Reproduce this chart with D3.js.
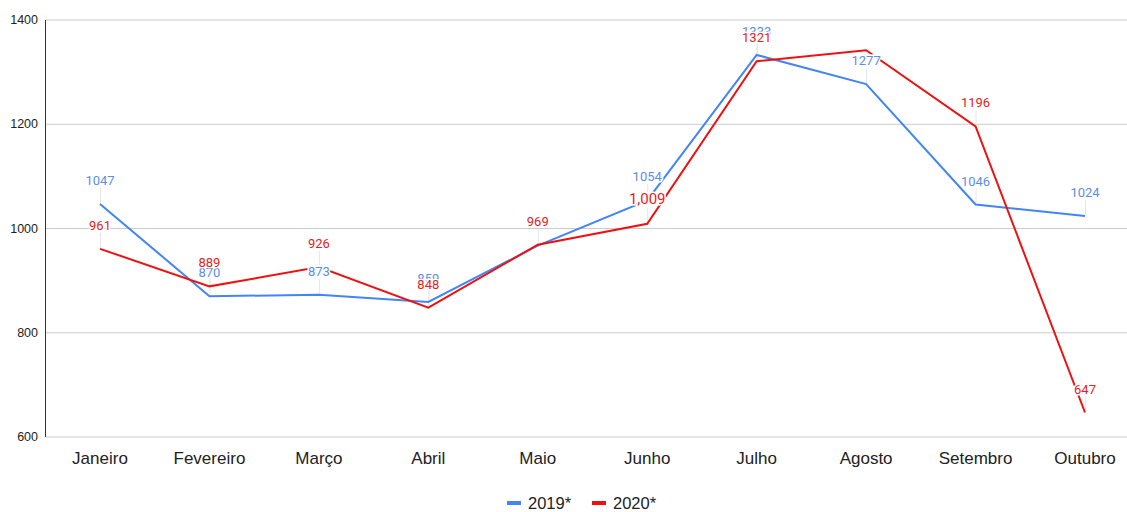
<!DOCTYPE html>
<html>
<head>
<meta charset="utf-8">
<script src="https://cdnjs.cloudflare.com/ajax/libs/d3/7.8.5/d3.min.js"></script>
<style>
  body { margin: 0; background: #fff; }
  svg { display: block; }
</style>
</head>
<body>
<svg id="chart"></svg>
<script>
// chart data
const months = ["Janeiro", "Fevereiro", "Março", "Abril", "Maio", "Junho", "Julho", "Agosto", "Setembro", "Outubro"];
const values2019 = [1047, 870, 873, 859, 967, 1054, 1333, 1277, 1046, 1024];
const values2020 = [961, 889, 926, 848, 969, 1009, 1321, 1342, 1196, 647];
const hidden2019 = ["Maio"];   // labels google hid
const hidden2020 = ["Agosto"];
const yTicks = [600, 800, 1000, 1200, 1400];

const series = [
    { name: "2019*", values: values2019, color: "#4285f4", label: "#5a8fe6", hidden: hidden2019 },
    { name: "2020*", values: values2020, color: "#ee1111", label: "#e8201c", hidden: hidden2020 }
];

const W = 1127, H = 512;
const svg = d3.select("#chart").attr("width", W).attr("height", H);

const x = d3.scalePoint().domain(months).range([100, 1085]);
const y = d3.scaleLinear().domain([600, 1400]).range([437, 20]);

// gridlines
svg.append("g")
    .selectAll("line")
    .data(yTicks)
    .enter().append("line")
    .attr("x1", 45).attr("x2", W)
    .attr("y1", d => y(d)).attr("y2", d => y(d))
    .attr("stroke", "#cccccc")
    .attr("stroke-width", 1);

// y axis line
svg.append("line")
    .attr("x1", 45.5).attr("x2", 45.5)
    .attr("y1", y(1400)).attr("y2", y(600))
    .attr("stroke", "#333")
    .attr("stroke-width", 1);

svg.append("g")
    .selectAll("text")
    .data(yTicks)
    .enter().append("text")
    .attr("x", 38)
    .attr("y", d => y(d) + 4)
    .attr("text-anchor", "end")
    .style("font-family", "Liberation Sans, Arial, sans-serif")
    .style("font-size", "12.5px")
    .attr("fill", "#222")
    .text(d => d);

// x labels
svg.append("g")
    .selectAll("text")
    .data(months)
    .enter().append("text")
    .attr("x", d => x(d))
    .attr("y", 464)
    .attr("text-anchor", "middle")
    .style("font-family", "Liberation Sans, Arial, sans-serif")
    .style("font-size", "17px")
    .attr("fill", "#222")
    .text(d => d);

const line = d3.line()
    .x((d, i) => x(months[i]))
    .y(d => y(d));

// leader lines first (faint)
series.forEach(s => {
    svg.append("g")
        .selectAll("line")
        .data(s.values.map((v, i) => ({ v, m: months[i] })).filter(d => !s.hidden.includes(d.m)))
        .enter().append("line")
        .attr("x1", d => x(d.m) + 0.5).attr("x2", d => x(d.m) + 0.5)
        .attr("y1", d => y(d.v) - 16).attr("y2", d => y(d.v))
        .attr("stroke", "#e6e6e6")
        .attr("stroke-width", 1);
});

series.forEach(s => {
    svg.append("path")
        .datum(s.values)
        .attr("d", line)
        .attr("fill", "none")
        .attr("stroke", s.color)
        .attr("stroke-width", 2);
});

// data labels
series.forEach(s => {
    svg.append("g")
        .selectAll("text")
        .data(s.values.map((v, i) => ({ v, m: months[i] })).filter(d => !s.hidden.includes(d.m)))
        .enter().append("text")
        .attr("x", d => x(d.m))
        .attr("y", d => y(d.v) - (d.v === 1009 ? 20 : 19))
        .attr("text-anchor", "middle")
        .style("font-family", "Roboto, sans-serif")
        .style("font-size", d => d.v === 1009 ? "15px" : "13px")
        .attr("fill", s.label)
        .attr("stroke", "#fff")
        .attr("stroke-width", 3)
        .attr("paint-order", "stroke")
        .text(d => d.v === 1009 ? d3.format(",")(d.v) : d.v);
});

// legend
const legend = svg.append("g").attr("transform", "translate(507,503)");
series.forEach((s, i) => {
    const g = legend.append("g").attr("transform", `translate(${i * 85},0)`);
    g.append("rect")
        .attr("x", 0).attr("y", -2)
        .attr("width", 14).attr("height", 4)
        .attr("fill", s.color);
    g.append("text")
        .attr("x", 21).attr("y", 6)
        .style("font-family", "Liberation Sans, Arial, sans-serif")
        .style("font-size", "16.5px")
        .attr("fill", "#222")
        .text(s.name);
});
</script>
</body>
</html>
